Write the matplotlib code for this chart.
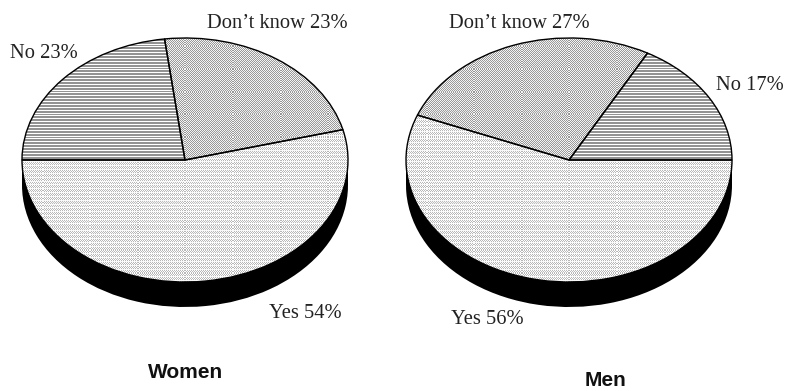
import matplotlib
matplotlib.use("Agg")
import matplotlib.pyplot as plt
import numpy as np

groups = ["Women", "Men"]
labels = ["No", "Don't know", "Yes"]
women = [23, 23, 54]
men = [17, 27, 56]

W, H = 785, 391
RX, RY = 163, 122
DEPTH = 25 / 122


def texture(kind):
    # small repeating screen patterns, one array cell = one pixel
    yy, xx = np.mgrid[0:260, 0:340]
    if kind == "No":
        return np.where(yy % 3 == 0, 1.0, 0.58)
    if kind == "Don't know":
        return np.where((xx + yy) % 2 == 0, 0.95, 0.6)
    # yes: dotted rows with a lighter row every 4 pixels
    dots = np.where((xx + yy) % 2 == 0, 1.0, 0.72)
    return np.where(yy % 4 == 0, 0.97, dots)


def draw_pie(ax, values, start, ccw):
    ax.pie(values, colors=["black"] * 3, startangle=start, counterclock=ccw,
           center=(0, -DEPTH), radius=1, wedgeprops={"linewidth": 0})
    ax.fill_between([-1, 1], 0, -DEPTH, color="black", lw=0)
    wedges, _ = ax.pie(values, colors=["white"] * 3, startangle=start, counterclock=ccw,
                       center=(0, 0), radius=1,
                       wedgeprops={"linewidth": 1.0, "edgecolor": "black"})
    for w, name in zip(wedges, labels):
        w.set_zorder(3)
        w.set_facecolor("none")
        im = ax.imshow(texture(name), cmap="gray", vmin=0, vmax=1, extent=(-1.02, 1.02, -1.02, 1.02),
                       interpolation="nearest", zorder=2)
        im.set_clip_path(w)
    ax.set_xlim(-1.02, 1.02)
    ax.set_ylim(-1.02 - 2 * DEPTH, 1.02)
    ax.set_aspect("auto")
    ax.axis("off")


fig = plt.figure(figsize=(W / 100, H / 100), dpi=100)
plt.rcParams["font.family"] = ["Liberation Sans", "DejaVu Sans"]

h = (2.04 + 2 * DEPTH) * RY
w = 2.04 * RX
top = 160 - 1.02 * RY
ax1 = fig.add_axes([(185 - 1.02 * RX) / W, 1 - (top + h) / H, w / W, h / H])
ax2 = fig.add_axes([(569 - 1.02 * RX) / W, 1 - (top + h) / H, w / W, h / H])
draw_pie(ax1, women, 180, False)
draw_pie(ax2, men, 0, True)

notes = [("Don\u2019t know 23%", 277.5, 23), ("No 23%", 44, 53), ("Yes 54%", 305.5, 314),
         ("Don\u2019t know 27%", 519, 23), ("No 17%", 750, 85), ("Yes 56%", 487.5, 319)]
for s, x, y in notes:
    fig.text(x / W, 1 - y / H, s, ha="center", va="center", fontsize=14.8,
             family="Liberation Serif", color="#222222")

fig.text(185.5 / W, 1 - 378 / H, groups[0], ha="center", va="baseline", fontsize=15, fontweight="bold", color="#111111")
fig.text(605 / W, 1 - 386 / H, groups[1], ha="center", va="baseline", fontsize=15, fontweight="bold", color="#111111")

fig.savefig("out.png", dpi=100)
